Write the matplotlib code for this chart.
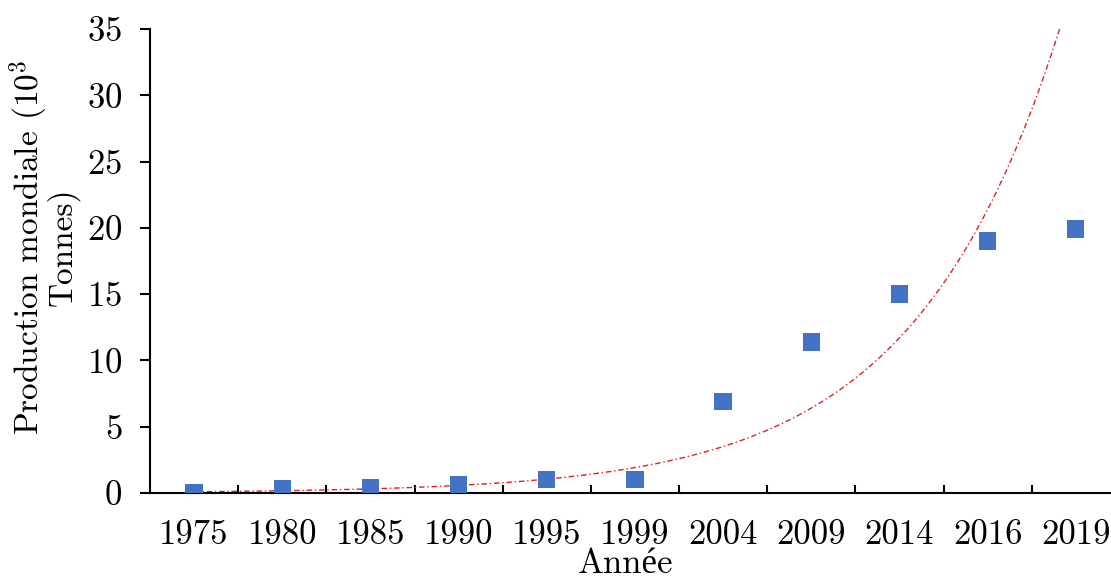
import numpy as np
import matplotlib
matplotlib.use("Agg")
import matplotlib.pyplot as plt
import matplotlib.patheffects as pe

plt.rcParams['font.family'] = ['cmr10', 'Liberation Serif', 'DejaVu Serif']
plt.rcParams['mathtext.fontset'] = 'cm'
plt.rcParams['axes.formatter.use_mathtext'] = True

annees = ['1975', '1980', '1985', '1990', '1995', '1999', '2004', '2009', '2014', '2016', '2019']
production = [0.04, 0.3, 0.4, 0.6, 1.0, 1.0, 6.9, 11.4, 15.0, 19.0, 19.9]
y_ticks = [0, 5, 10, 15, 20, 25, 30, 35]

x = np.arange(len(annees))

fig = plt.figure(figsize=(11.11, 5.79), dpi=100)
ax = fig.add_axes([0.135, 0.1485, 0.873, 0.8015])

# courbe de tendance exponentielle (comme Excel)
coef = np.polyfit(x, np.log(production), 1)
xt = np.linspace(0, len(annees) - 1, 400)
ax.plot(xt, np.exp(coef[1]) * np.exp(coef[0] * xt), color='#e02020',
        lw=1.0, linestyle=(0, (4, 2, 1, 2)), zorder=2)

ax.plot(x, production, linestyle='none', marker='s', markersize=12.5,
        color='#4472c4', markeredgewidth=0, zorder=3,
        path_effects=[pe.SimpleLineShadow(offset=(0.8, -2.2), shadow_color='#333333', alpha=0.45),
                      pe.Normal()])

ax.set_xlim(-0.5, len(annees) - 0.5)
ax.set_ylim(0, 35)
ax.set_xticks(x)
ax.set_xticklabels(annees)
ax.set_xticks(x[:-1] + 0.5, minor=True)
ax.set_yticks(y_ticks)

ax.spines['top'].set_visible(False)
ax.spines['right'].set_visible(False)
ax.spines['left'].set_linewidth(1.5)
ax.spines['bottom'].set_linewidth(1.5)

ax.tick_params(axis='x', which='major', length=0, pad=19, labelsize=25)
ax.tick_params(axis='x', which='minor', direction='in', length=6, width=1.5)
ax.tick_params(axis='y', direction='out', length=7, width=1.5, pad=13, labelsize=25)

ax.set_xlabel('Année', fontsize=25, va='center')
ax.xaxis.set_label_coords(0.49, -0.153)
ax.set_ylabel('Production mondiale (10$^3$\nTonnes)', fontsize=24, va='center', linespacing=0.85)
ax.yaxis.set_label_coords(-0.11, 0.53)

fig.savefig('out.png', dpi=100)
